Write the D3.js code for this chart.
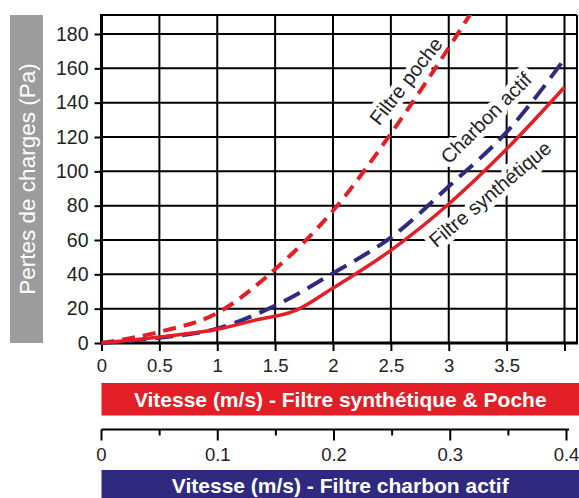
<!DOCTYPE html>
<html>
<head>
<meta charset="utf-8">
<script src="https://cdn.jsdelivr.net/npm/d3@7"></script>
<style>
  html, body { margin: 0; padding: 0; background: #fff; }
  svg { display: block; font-family: "Liberation Sans", Arial, sans-serif; }
</style>
</head>
<body>
<svg id="chart" width="579" height="498"></svg>
<script>
// ---- Data ----
const yTicks = [0, 20, 40, 60, 80, 100, 120, 140, 160, 180];
const xTicks = [0, 0.5, 1, 1.5, 2, 2.5, 3, 3.5, 4];
const xTickLabels = ["0", "0.5", "1", "1.5", "2", "2.5", "3", "3.5", ""];
const x2MajorTicks = [0, 0.1, 0.2, 0.3, 0.4];
const x2MinorTicks = [0.05, 0.15, 0.25, 0.35];

// Filtre synthétique (speed m/s, pressure Pa)
const synthX = [0, 0.5, 1, 1.34, 1.68, 2, 2.5, 3, 3.5, 4];
const synthY = [0, 3.5, 8, 13.5, 19, 32, 54, 81, 113, 149];
// Filtre poche
const pocheX = [0, 0.5, 1, 1.5, 2, 2.5, 3, 3.2];
const pocheY = [0, 6.5, 17.5, 43, 77, 122, 172, 193];
// Charbon actif (speed on secondary axis)
const charbonX = [0, 0.05, 0.1, 0.15, 0.2, 0.25, 0.3, 0.35, 0.4];
const charbonY = [0, 3, 8.5, 22, 41, 62, 92, 124, 167];

const yTitle = "Pertes de charges (Pa)";
const xTitle1 = "Vitesse (m/s) - Filtre synthétique & Poche";
const xTitle2 = "Vitesse (m/s) - Filtre charbon actif";
const labelPoche = "Filtre poche";
const labelCharbon = "Charbon actif";
const labelSynth = "Filtre synthétique";

// ---- Layout ----
const RED = "#e41e26", NAVY = "#2f2a80", GRAY = "#9c9c9c";
const pLeft = 101.5, pRight = 577, pTop = 15, pBottom = 343;

const svg = d3.select("#chart");
const x = d3.scaleLinear().domain([0, 4]).range([pLeft, 564.5]);
const y = d3.scaleLinear().domain([0, 180]).range([pBottom, 34]);
const x2 = d3.scaleLinear().domain([0, 0.4]).range([pLeft, 566.5]);

// Left gray title box
svg.append("rect").attr("x", 10).attr("y", pTop).attr("width", 33).attr("height", pBottom - pTop).attr("fill", GRAY);
svg.append("text")
  .attr("transform", `translate(34.5,${(pTop + pBottom) / 2}) rotate(-90)`)
  .attr("text-anchor", "middle")
  .attr("fill", "#fff").attr("font-size", 22.5)
  .text(yTitle);

// Grid
const grid = svg.append("g").attr("stroke", "#000").attr("stroke-width", 2);
grid.selectAll("line.v").data(xTicks.filter(d => d > 0)).join("line").attr("class", "v")
  .attr("x1", d => x(d)).attr("x2", d => x(d)).attr("y1", pTop).attr("y2", pBottom);
grid.selectAll("line.h").data(yTicks.filter(d => d > 0)).join("line").attr("class", "h")
  .attr("x1", pLeft).attr("x2", pRight).attr("y1", d => y(d)).attr("y2", d => y(d));
// Borders
grid.append("line").attr("x1", pLeft).attr("x2", pRight).attr("y1", pTop).attr("y2", pTop);
grid.append("line").attr("x1", pRight).attr("x2", pRight).attr("y1", pTop).attr("y2", pBottom);

// Y axis
const yAxis = svg.append("g").attr("transform", `translate(${pLeft},0)`)
  .call(d3.axisLeft(y).tickValues(yTicks).tickSize(7).tickPadding(6).tickFormat(d3.format("d")));
yAxis.select(".domain").remove();
yAxis.selectAll(".tick line").attr("stroke", "#000").attr("stroke-width", 2);
yAxis.selectAll(".tick text").attr("font-size", 19.5).attr("fill", "#222")
  .attr("font-family", '"Liberation Sans", Arial, sans-serif');

// X axis
const xAxis = svg.append("g").attr("transform", `translate(0,${pBottom})`)
  .call(d3.axisBottom(x).tickValues(xTicks).tickSize(8).tickPadding(8).tickFormat((d, i) => xTickLabels[i]));
xAxis.select(".domain").remove();
xAxis.selectAll(".tick line").attr("stroke", "#000").attr("stroke-width", 2);
xAxis.selectAll(".tick text").attr("font-size", 18.5).attr("fill", "#222")
  .attr("font-family", '"Liberation Sans", Arial, sans-serif');

// Curve labels (with white halo)
const labels = [
  { t: labelPoche, cx: 406, cy: 81, a: -52 },
  { t: labelCharbon, cx: 486, cy: 118, a: -45 },
  { t: labelSynth, cx: 490, cy: 194, a: -40 }
];
svg.selectAll("text.lbl").data(labels).join("text")
  .attr("class", "lbl")
  .attr("transform", d => `translate(${d.cx},${d.cy}) rotate(${d.a})`)
  .attr("text-anchor", "middle").attr("dy", "0.35em")
  .attr("font-size", 20).attr("fill", "#222")
  .attr("stroke", "#fff").attr("stroke-width", 10).attr("stroke-linejoin", "round")
  .attr("paint-order", "stroke")
  .text(d => d.t);

// Left & bottom thick axis lines
svg.append("line").attr("x1", pLeft).attr("x2", pLeft).attr("y1", pTop - 1).attr("y2", pBottom + 1.5)
  .attr("stroke", "#000").attr("stroke-width", 3);
svg.append("line").attr("x1", pLeft).attr("x2", pRight + 1).attr("y1", pBottom).attr("y2", pBottom)
  .attr("stroke", "#000").attr("stroke-width", 3);

// Clip
svg.append("clipPath").attr("id", "clip").append("rect")
  .attr("x", pLeft - 3).attr("y", pTop).attr("width", pRight - pLeft + 3).attr("height", pBottom - pTop + 3);

const line = (xs, sx) => d3.line().x((d, i) => sx(xs[i])).y(d => y(d)).curve(d3.curveMonotoneX);
const curves = svg.append("g").attr("clip-path", "url(#clip)").attr("fill", "none").attr("stroke-linecap", "butt");
curves.append("path").datum(pocheY).attr("d", line(pocheX, x))
  .attr("stroke", RED).attr("stroke-width", 4).attr("stroke-dasharray", "13,8");
curves.append("path").datum(charbonY).attr("d", line(charbonX, x2))
  .attr("stroke", NAVY).attr("stroke-width", 4).attr("stroke-dasharray", "18,9");
curves.append("path").datum(synthY).attr("d", line(synthX, x))
  .attr("stroke", RED).attr("stroke-width", 3.5);

// Red banner
svg.append("rect").attr("x", pLeft).attr("y", 383).attr("width", 579 - pLeft).attr("height", 32.5).attr("fill", RED);
svg.append("text").attr("x", (pLeft + 579) / 2).attr("y", 407)
  .attr("text-anchor", "middle").attr("fill", "#fff").attr("font-size", 21).attr("font-weight", "bold")
  .text(xTitle1);

// Secondary axis
const x2Axis = svg.append("g").attr("transform", "translate(0,429.5)");
x2Axis.append("line").attr("x1", pLeft).attr("x2", 569).attr("y1", 0).attr("y2", 0)
  .attr("stroke", "#000").attr("stroke-width", 2);
x2Axis.selectAll("line.maj").data(x2MajorTicks).join("line").attr("class", "maj")
  .attr("x1", d => x2(d)).attr("x2", d => x2(d)).attr("y1", 0).attr("y2", 11)
  .attr("stroke", "#000").attr("stroke-width", 2);
x2Axis.selectAll("line.min").data(x2MinorTicks).join("line").attr("class", "min")
  .attr("x1", d => x2(d)).attr("x2", d => x2(d)).attr("y1", 0).attr("y2", 6)
  .attr("stroke", "#000").attr("stroke-width", 2);
x2Axis.selectAll("text").data(x2MajorTicks).join("text")
  .attr("x", d => x2(d)).attr("y", 31)
  .attr("text-anchor", "middle").attr("font-size", 18.5).attr("fill", "#222")
  .text(d => d === 0 ? "0" : d3.format(".1f")(d));

// Navy banner
svg.append("rect").attr("x", pLeft).attr("y", 470).attr("width", 579 - pLeft).attr("height", 28).attr("fill", NAVY);
svg.append("text").attr("x", (pLeft + 579) / 2).attr("y", 493)
  .attr("text-anchor", "middle").attr("fill", "#fff").attr("font-size", 21).attr("font-weight", "bold")
  .text(xTitle2);
</script>
</body>
</html>
